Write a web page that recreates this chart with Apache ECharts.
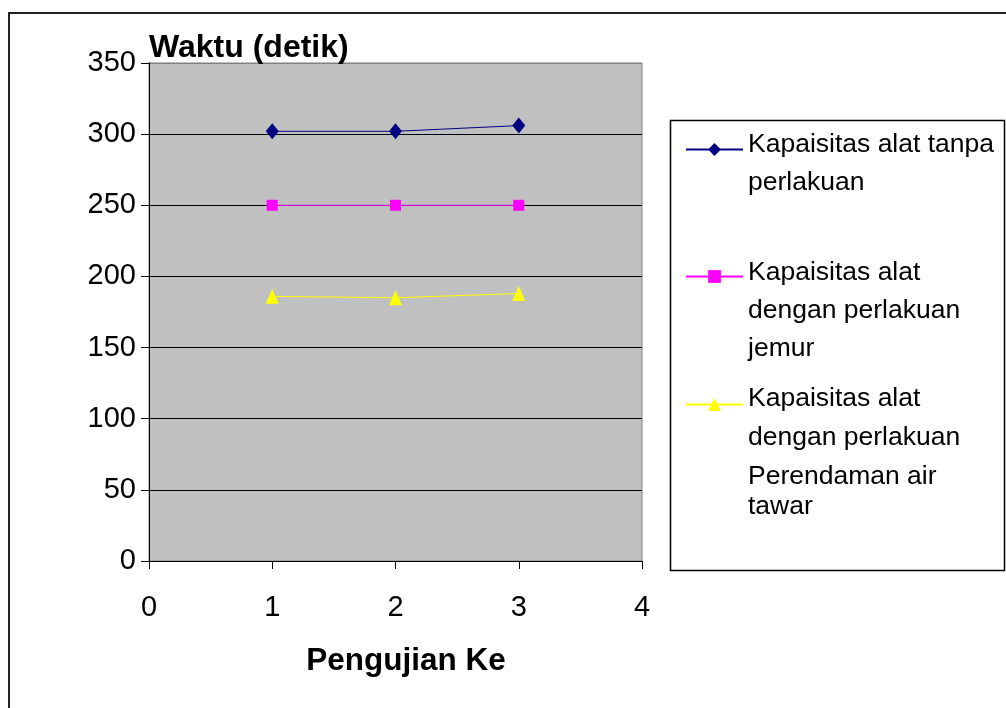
<!DOCTYPE html>
<html>
<head>
<meta charset="utf-8">
<script src="https://cdn.jsdelivr.net/npm/echarts@6/dist/echarts.min.js"></script>
<style>
html,body{margin:0;padding:0;background:#fff;}
#c{width:1006px;height:708px;}
</style>
</head>
<body>
<div id="c"></div>
<script>
var xValues = [1, 2, 3];
var seriesNames = ['Kapaisitas alat tanpa perlakuan', 'Kapaisitas alat dengan perlakuan jemur', 'Kapaisitas alat dengan perlakuan Perendaman air tawar'];
var tanpaPerlakuan = [302, 302, 306];
var perlakuanJemur = [250, 250, 250];
var perendamanAir = [186, 185, 188];
var yTicks = [0, 50, 100, 150, 200, 250, 300, 350];
var xTicks = [0, 1, 2, 3, 4];
var legendLines = [
  ['Kapaisitas alat tanpa', 'perlakuan'],
  ['Kapaisitas alat', 'dengan perlakuan', 'jemur'],
  ['Kapaisitas alat', 'dengan perlakuan', 'Perendaman air', 'tawar']
];

var FF = '"Liberation Sans", Arial, Helvetica, sans-serif';
function pairs(vals){ return xValues.map(function(x,i){ return [x, vals[i]]; }); }

var chart = echarts.init(document.getElementById('c'), null, {renderer:'canvas'});

function legendFor(idx, top, lastSmall, padTop){
  var lines = legendLines[idx];
  return {
    data: [seriesNames[idx]],
    orient: 'vertical',
    left: 685,
    top: top,
    padding: 0,
    itemWidth: 57,
    itemHeight: 16,
    itemGap: 0,
    selectedMode: false,
    formatter: function(){
      return lines.map(function(l, i){
        return (lastSmall && i === lines.length - 1) ? '{b|' + l + '}' : '{a|' + l + '}';
      }).join('\n');
    },
    textStyle: {
      color: '#000',
      fontFamily: FF,
      fontSize: 26.5,
      padding: [padTop, 0, 0, 0],
      rich: {
        a: {fontFamily: FF, fontSize: 26.5, lineHeight: idx === 2 ? 39 : 38, color: '#000'},
        b: {fontFamily: FF, fontSize: 26.5, lineHeight: 22, color: '#000'}
      }
    }
  };
}

var option = {
  animation: false,
  backgroundColor: '#ffffff',
  title: {
    text: 'Waktu (detik)',
    left: 149,
    top: 32,
    padding: 0,
    textStyle: {fontFamily: FF, fontSize: 32, fontWeight: 'bold', color: '#000'}
  },
  grid: {
    left: 149, top: 63, right: 364, bottom: 147,
    show: true, backgroundColor: '#C0C0C0', borderColor: '#808080', borderWidth: 1,
    containLabel: false
  },
  legend: [
    legendFor(0, 131, false, 28),
    legendFor(1, 259, false, 68),
    legendFor(2, 385, true, 88)
  ],
  xAxis: {
    type: 'value',
    min: xTicks[0], max: xTicks[xTicks.length - 1], interval: 1,
    name: 'Pengujian Ke',
    nameLocation: 'middle',
    nameGap: 84,
    nameTextStyle: {fontFamily: FF, fontSize: 31.5, fontWeight: 'bold', color: '#000', padding: [0, 0, 0, 21]},
    axisLine: {show: true, onZero: false, lineStyle: {color: '#000', width: 1}},
    axisTick: {show: true, inside: false, length: 8, lineStyle: {color: '#000'}},
    axisLabel: {fontFamily: FF, fontSize: 29, color: '#000', margin: 32},
    splitLine: {show: false}
  },
  yAxis: {
    type: 'value',
    min: yTicks[0], max: yTicks[yTicks.length - 1], interval: 50,
    axisLine: {show: true, lineStyle: {color: '#000', width: 1}},
    axisTick: {show: true, inside: false, length: 8, lineStyle: {color: '#000'}},
    axisLabel: {fontFamily: FF, fontSize: 29, color: '#000', margin: 13},
    splitLine: {show: true, lineStyle: {color: ['#000','#000','#000','#000','#000','#000','#000','#808080'], width: 1}}
  },
  graphic: [
    {type: 'rect', shape: {x: 9, y: 13, width: 1020, height: 720}, style: {fill: 'none', stroke: '#222', lineWidth: 2}, z: -1, silent: true},
    {type: 'rect', shape: {x: 670.5, y: 120.5, width: 334, height: 450}, style: {fill: '#fff', stroke: '#000', lineWidth: 1.5}, z: -1, silent: true}
  ],
  series: [
    {
      name: seriesNames[0], type: 'line', data: pairs(tanpaPerlakuan),
      symbol: 'diamond', symbolSize: [13, 16],
      lineStyle: {color: '#000080', width: 1}, itemStyle: {color: '#000080'}
    },
    {
      name: seriesNames[1], type: 'line', data: pairs(perlakuanJemur),
      symbol: 'rect', symbolSize: 11,
      lineStyle: {color: '#FF00FF', width: 1}, itemStyle: {color: '#FF00FF'}
    },
    {
      name: seriesNames[2], type: 'line', data: pairs(perendamanAir),
      symbol: 'triangle', symbolSize: [13, 15],
      lineStyle: {color: '#FFFF00', width: 1}, itemStyle: {color: '#FFFF00'}
    }
  ]
};
chart.setOption(option);
</script>
</body>
</html>
